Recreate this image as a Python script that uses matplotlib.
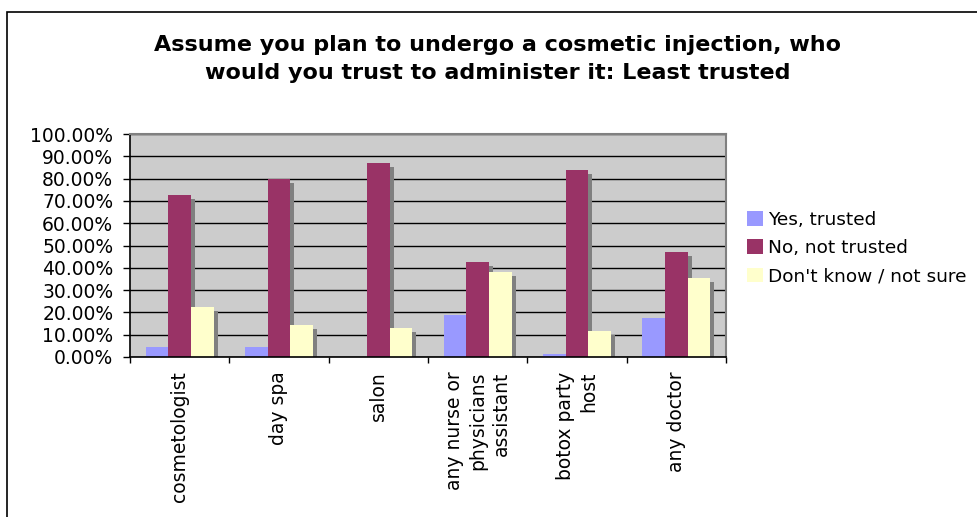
import matplotlib
matplotlib.use("Agg")
import matplotlib.pyplot as plt
import matplotlib.transforms as mtransforms
from matplotlib.patches import Rectangle
import numpy as np

categories = ["cosmetologist", "day spa", "salon", "any nurse or\nphysicians\nassistant",
              "botox party\nhost", "any doctor"]
series_names = ["Yes, trusted", "No, not trusted", "Don't know / not sure"]
yes_trusted = [4.6, 4.6, 0.0, 19.0, 1.5, 17.7]
no_trusted = [72.5, 79.9, 86.8, 42.8, 83.7, 46.9]
dont_know = [22.6, 14.5, 13.2, 38.3, 11.8, 35.6]
y_ticks = [0, 10, 20, 30, 40, 50, 60, 70, 80, 90, 100]
title = "Assume you plan to undergo a cosmetic injection, who\nwould you trust to administer it: Least trusted"

colors = ["#9999FF", "#993366", "#FFFFCC"]
shadow_color = "#808080"

W, H = 977, 517
fig = plt.figure(figsize=(W / 100, H / 100), dpi=100)
fig.patch.set_facecolor("white")

# outer chart frame (extends beyond the image to the right and bottom)
fig.patches.append(Rectangle((7 / W, -0.1), 1.2, (H - 12) / H + 0.1, transform=fig.transFigure,
                             fill=False, edgecolor="black", linewidth=1.2))

ax = fig.add_axes([130 / W, (H - 357) / H, 596 / W, 223 / H])
ax.set_facecolor("#CCCCCC")

series = [yes_trusted, no_trusted, dont_know]
n = len(categories)
x = np.arange(n) + 0.5
w = 0.228
offset = mtransforms.ScaledTranslation(4 / 100, -4 / 100, fig.dpi_scale_trans)

# shadows
for j, vals in enumerate(series):
    bars = ax.bar(x + (j - 1) * w, vals, width=w, color=shadow_color, zorder=1.5, linewidth=0)
    for b in bars:
        b.set_transform(ax.transData + offset)
# bars
for j, vals in enumerate(series):
    ax.bar(x + (j - 1) * w, vals, width=w, color=colors[j], zorder=2, linewidth=0,
           label=series_names[j])

ax.set_xlim(0, n)
ax.set_ylim(0, 100)
ax.set_yticks(y_ticks)
ax.set_yticklabels([f"{v:.2f}%" for v in y_ticks])
ax.yaxis.grid(True, color="black", linewidth=1.0)
ax.set_axisbelow(True)

ax.set_xticks(np.arange(n + 1))
ax.set_xticklabels([])
ax.set_xticks(x, minor=True)
ax.set_xticklabels(categories, minor=True, rotation=90, va="top", ha="center",
                   multialignment="right", fontsize=13.5, linespacing=1.3)
ax.tick_params(axis="x", which="major", length=4.5, width=1, direction="out")
ax.tick_params(axis="x", which="minor", length=0, pad=10.5)
ax.tick_params(axis="y", length=5, width=1, direction="out", labelsize=13.5, pad=7)

for s in ["left", "bottom"]:
    ax.spines[s].set_color("black")
    ax.spines[s].set_linewidth(1.2)
for s in ["top", "right"]:
    ax.spines[s].set_color("#808080")
    ax.spines[s].set_linewidth(1.5)

fig.text(498 / W, 1 - 59 / H, title, ha="center", va="center", fontsize=16,
         fontweight="bold", linespacing=1.45)

handles, labels = ax.get_legend_handles_labels()
leg = fig.legend(handles, labels, loc="upper left", bbox_to_anchor=(747 / W, 1 - 211 / H),
                 frameon=False, fontsize=13.3, handlelength=0.85, handleheight=0.85,
                 handletextpad=0.3, labelspacing=0.55, borderpad=0, borderaxespad=0)

fig.savefig("out.png", dpi=100)
